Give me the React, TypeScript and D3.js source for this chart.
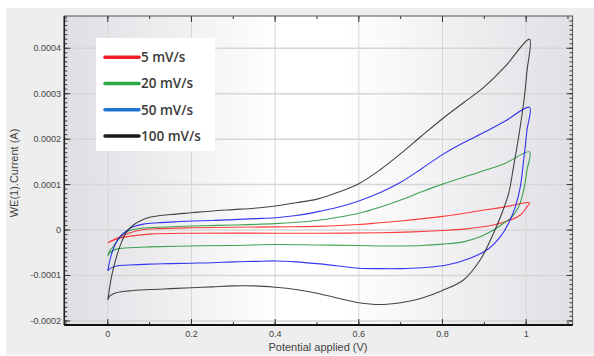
import React from 'react';
import * as d3 from 'd3';

// values: potential in V, current in units of 1e-4 A
const blackFwdX = [0, 0.0096, 0.0215, 0.033, 0.045, 0.061, 0.077, 0.1, 0.15, 0.2, 0.25, 0.3, 0.35, 0.4, 0.45, 0.5, 0.55, 0.6, 0.65, 0.7, 0.75, 0.8, 0.85, 0.9, 0.95, 1.008];
const blackFwdY = [-1.54, -0.99, -0.57, -0.26, -0.04, 0.11, 0.2, 0.28, 0.34, 0.38, 0.42, 0.45, 0.48, 0.53, 0.6, 0.68, 0.83, 1.02, 1.32, 1.68, 2.07, 2.45, 2.8, 3.15, 3.6, 4.2];
const blackRevX = [1.008, 1.002, 0.994, 0.982, 0.97, 0.958, 0.942, 0.922, 0.89, 0.85, 0.8, 0.75, 0.7, 0.65, 0.6, 0.55, 0.5, 0.45, 0.4, 0.35, 0.3, 0.25, 0.2, 0.15, 0.1, 0.05, 0.02, 0.005, 0];
const blackRevY = [4.2, 3.5, 2.8, 2.05, 1.4, 0.8, 0.37, -0.07, -0.66, -1.1, -1.33, -1.5, -1.6, -1.64, -1.6, -1.5, -1.39, -1.31, -1.26, -1.23, -1.23, -1.25, -1.27, -1.29, -1.31, -1.34, -1.38, -1.45, -1.54];

const blueFwdX = [0, 0.007, 0.017, 0.029, 0.045, 0.061, 0.085, 0.12, 0.16, 0.2, 0.25, 0.3, 0.35, 0.4, 0.45, 0.5, 0.55, 0.6, 0.65, 0.7, 0.75, 0.8, 0.85, 0.9, 0.95, 1.008];
const blueFwdY = [-0.9, -0.59, -0.33, -0.15, -0.015, 0.07, 0.13, 0.16, 0.18, 0.2, 0.21, 0.23, 0.25, 0.27, 0.32, 0.4, 0.5, 0.64, 0.82, 1.05, 1.35, 1.66, 1.92, 2.15, 2.4, 2.7];
const blueRevX = [1.008, 1.002, 0.994, 0.986, 0.974, 0.958, 0.938, 0.906, 0.866, 0.81, 0.75, 0.7, 0.65, 0.6, 0.55, 0.5, 0.45, 0.4, 0.35, 0.3, 0.25, 0.2, 0.15, 0.1, 0.05, 0.02, 0.005, 0];
const blueRevY = [2.7, 2.2, 1.54, 0.95, 0.51, 0.15, -0.15, -0.44, -0.62, -0.77, -0.83, -0.85, -0.85, -0.84, -0.79, -0.74, -0.7, -0.68, -0.69, -0.7, -0.72, -0.73, -0.74, -0.75, -0.77, -0.79, -0.85, -0.9];

const greenFwdX = [0, 0.006, 0.012, 0.025, 0.04, 0.06, 0.08, 0.12, 0.2, 0.3, 0.4, 0.45, 0.5, 0.55, 0.6, 0.65, 0.7, 0.75, 0.8, 0.85, 0.9, 0.95, 1.008];
const greenFwdY = [-0.57, -0.43, -0.38, -0.2, -0.06, 0.01, 0.04, 0.06, 0.09, 0.11, 0.14, 0.17, 0.21, 0.28, 0.37, 0.5, 0.66, 0.84, 1.01, 1.16, 1.31, 1.47, 1.72];
const greenRevX = [1.008, 1.002, 0.994, 0.982, 0.966, 0.946, 0.922, 0.89, 0.85, 0.8, 0.75, 0.7, 0.65, 0.6, 0.5, 0.4, 0.3, 0.2, 0.1, 0.05, 0.02, 0.005, 0];
const greenRevY = [1.72, 1.32, 0.88, 0.51, 0.29, 0.15, 0.0, -0.15, -0.26, -0.31, -0.34, -0.35, -0.35, -0.34, -0.33, -0.32, -0.34, -0.35, -0.37, -0.39, -0.42, -0.5, -0.57];

const redFwdX = [0, 0.01, 0.03, 0.05, 0.08, 0.12, 0.2, 0.3, 0.4, 0.5, 0.6, 0.65, 0.7, 0.8, 0.9, 0.95, 1.008];
const redFwdY = [-0.28, -0.23, -0.15, -0.07, 0.0, 0.03, 0.05, 0.06, 0.07, 0.08, 0.12, 0.16, 0.2, 0.3, 0.44, 0.51, 0.6];
const redRevX = [1.008, 1.002, 0.986, 0.962, 0.922, 0.85, 0.8, 0.73, 0.65, 0.5, 0.4, 0.2, 0.1, 0.05, 0.02, 0];
const redRevY = [0.6, 0.51, 0.33, 0.22, 0.11, 0.02, -0.01, -0.04, -0.06, -0.07, -0.07, -0.07, -0.09, -0.14, -0.2, -0.28];

const seriesNames = ['5 mV/s', '20 mV/s', '50 mV/s', '100 mV/s'];
const legendColors = ['#ef1f28', '#2bab48', '#1f74d2', '#1a1a1a'];
const curveColors = ['#ff1c1c', '#1d9436', '#1414f0', '#262626'];

const xTicks = [0, 0.2, 0.4, 0.6, 0.8, 1];
const xTickLabels = ['0', '0.2', '0.4', '0.6', '0.8', '1'];
const yTicks = [-2, -1, 0, 1, 2, 3, 4];
const yTickLabels = ['-0.0002', '-0.0001', '0', '0.0001', '0.0002', '0.0003', '0.0004'];

function loop(fx: number[], fy: number[], rx: number[], ry: number[]): [number, number][] {
  const a = fx.map((v, i) => [v, fy[i]] as [number, number]);
  const b = rx.slice(1).map((v, i) => [v, ry[i + 1]] as [number, number]);
  return a.concat(b);
}

const loops = [
  loop(redFwdX, redFwdY, redRevX, redRevY),
  loop(greenFwdX, greenFwdY, greenRevX, greenRevY),
  loop(blueFwdX, blueFwdY, blueRevX, blueRevY),
  loop(blackFwdX, blackFwdY, blackRevX, blackRevY),
];

export default function App() {
  const W = 594, H = 356;
  const left = 64.3, right = 572.6, top = 16, bottom = 325;

  const x = d3.scaleLinear().domain([-0.104, 1.111]).range([left, right]);
  const y = d3.scaleLinear().domain([-2.09, 4.71]).range([bottom, top]);

  const line = d3.line<[number, number]>()
    .x(d => x(d[0]))
    .y(d => y(d[1]))
    .curve(d3.curveCatmullRom.alpha(0.5));

  const xMinor = d3.range(-0.1, 1.11, 0.1).filter(v => x(v) > left + 1 && x(v) < right - 1);
  const yMinor = d3.range(-2.0, 4.71, 0.1).filter(v => y(v) > top + 1 && y(v) < bottom - 1);

  const lg = { x: 96, y: 38, w: 119, h: 113 };

  return (
    <svg width={W} height={H} style={{ position: 'absolute', left: 0, top: 0 }}>
      <defs>
        <linearGradient id="bg" x1="0" x2="1" y1="0" y2="0">
          <stop offset="0%" stopColor="#dedee3" />
          <stop offset="42%" stopColor="#ffffff" />
          <stop offset="55%" stopColor="#ffffff" />
          <stop offset="100%" stopColor="#e0e0e5" />
        </linearGradient>
        <clipPath id="clip">
          <rect x={left} y={top} width={right - left} height={bottom - top} />
        </clipPath>
      </defs>
      <rect x={0} y={0} width={W} height={H} fill="#ffffff" />
      <rect x={6} y={8} width={W - 6} height={H - 9} fill="#eeeeee" />
      <rect x={left} y={top} width={right - left} height={bottom - top} fill="url(#bg)" />

      {/* grid */}
      {xTicks.map((t, i) => (
        <line key={'gx' + i} x1={x(t)} x2={x(t)} y1={top} y2={bottom} stroke="#d6d6d6" strokeWidth={1} />
      ))}
      {yTicks.map((t, i) => (
        <line key={'gy' + i} x1={left} x2={right} y1={y(t)} y2={y(t)} stroke="#d6d6d6" strokeWidth={1.5} />
      ))}

      {/* ticks */}
      <g stroke="#333" strokeWidth={1}>
        {xMinor.map((t, i) => (
          <g key={'xm' + i}>
            <line x1={x(t)} x2={x(t)} y1={bottom} y2={bottom - 3} />
            <line x1={x(t)} x2={x(t)} y1={top} y2={top + 3} />
          </g>
        ))}
        {xTicks.map((t, i) => (
          <g key={'xM' + i}>
            <line x1={x(t)} x2={x(t)} y1={bottom} y2={bottom - 6} />
            <line x1={x(t)} x2={x(t)} y1={top} y2={top + 6} />
          </g>
        ))}
        {yMinor.map((t, i) => (
          <g key={'ym' + i}>
            <line x1={left} x2={left + 3} y1={y(t)} y2={y(t)} />
            <line x1={right} x2={right - 3} y1={y(t)} y2={y(t)} />
          </g>
        ))}
        {yTicks.map((t, i) => (
          <g key={'yM' + i}>
            <line x1={left} x2={left + 6} y1={y(t)} y2={y(t)} />
            <line x1={right} x2={right - 6} y1={y(t)} y2={y(t)} />
          </g>
        ))}
      </g>

      {/* curves */}
      <g clipPath="url(#clip)" fill="none">
        {loops.map((pts, i) => (
          <path key={'c' + i} d={line(pts) || ''} stroke={curveColors[i]} strokeWidth={1.1} strokeOpacity={0.85} />
        ))}
      </g>

      {/* frame */}
      <rect x={left} y={top} width={right - left} height={bottom - top} fill="none" stroke="#555" strokeWidth={1} />
      <line x1={left} x2={left} y1={top} y2={bottom} stroke="#222" strokeWidth={1.5} />
      <line x1={left} x2={right} y1={bottom} y2={bottom} stroke="#111" strokeWidth={2} />

      {/* tick labels */}
      <g fontFamily="Liberation Sans, Arial, sans-serif" fontSize={9} fill="#444">
        {xTicks.map((t, i) => (
          <text key={'xl' + i} x={x(t)} y={337} textAnchor="middle">{xTickLabels[i]}</text>
        ))}
        {yTicks.map((t, i) => (
          <text key={'yl' + i} x={61} y={y(t) + 3} textAnchor="end">{yTickLabels[i]}</text>
        ))}
      </g>

      {/* axis titles */}
      <text x={318} y={351} textAnchor="middle" fontFamily="Liberation Sans, Arial, sans-serif" fontSize={11} fill="#444">
        Potential applied (V)
      </text>
      <text transform="translate(18,173) rotate(-90)" textAnchor="middle" fontFamily="Liberation Sans, Arial, sans-serif" fontSize={11} fill="#444">
        WE(1).Current (A)
      </text>

      {/* legend */}
      <rect x={lg.x} y={lg.y} width={lg.w} height={lg.h} fill="#ffffff" />
      {seriesNames.map((n, i) => {
        const cy = 57.3 + i * 26.2;
        return (
          <g key={'lg' + i}>
            <line x1={105} x2={139} y1={cy} y2={cy} stroke={legendColors[i]} strokeWidth={3.5} strokeLinecap="round" />
            <text x={141} y={cy + 4.8} fontFamily="Open Sans, sans-serif" fontWeight={600} fontSize={13.5} fill="#3a3a3a">
              {n}
            </text>
          </g>
        );
      })}
    </svg>
  );
}
